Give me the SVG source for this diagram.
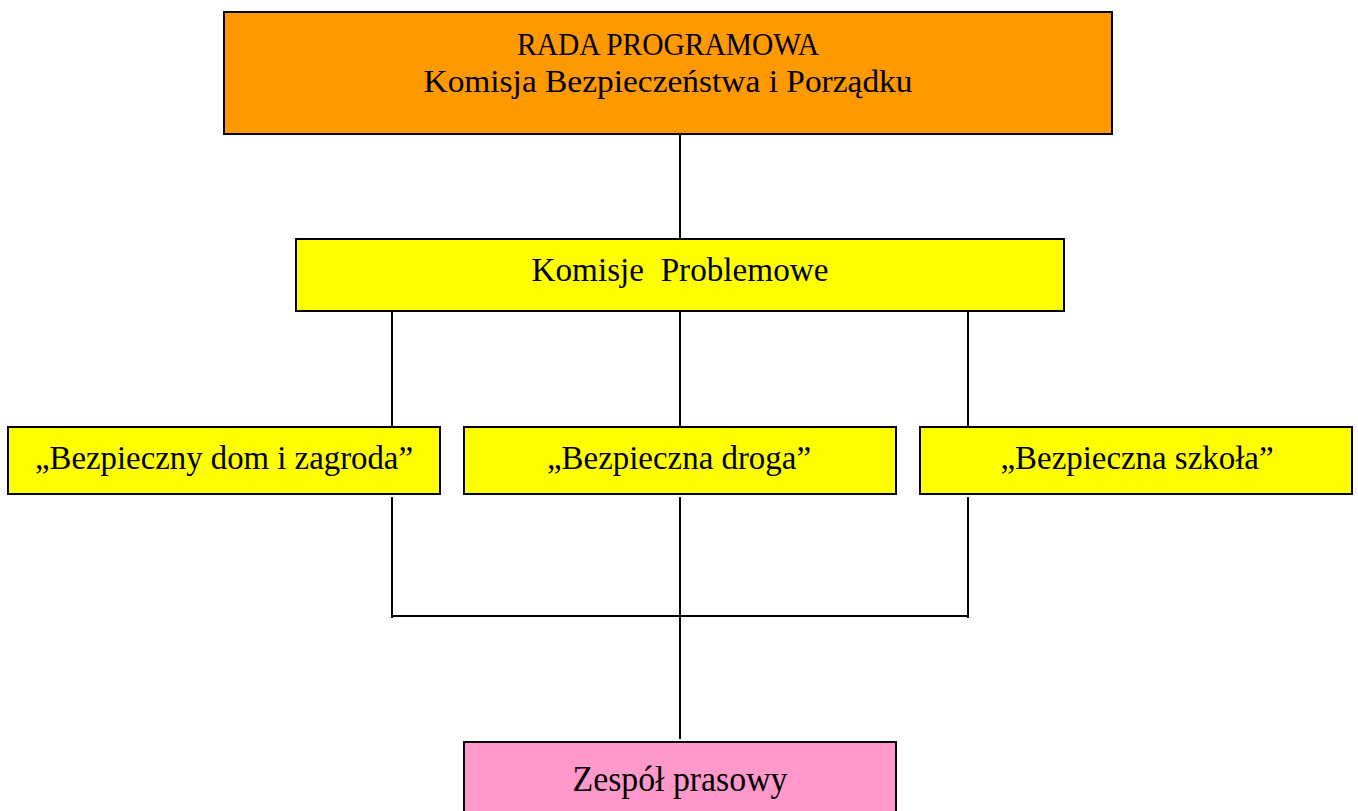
<svg xmlns="http://www.w3.org/2000/svg" width="1358" height="811" viewBox="0 0 1358 811">
<style>
.box{stroke:#000;stroke-width:2}
.t{font-family:"Liberation Serif","DejaVu Serif",serif;fill:#000;text-anchor:middle}
.c{stroke:#000;stroke-width:2;fill:none}
</style>
<rect width="1358" height="811" fill="#fff"/>
<g id="connectors">
<line class="c" x1="680" y1="134" x2="680" y2="240"/>
<line class="c" x1="392" y1="311" x2="392" y2="428"/>
<line class="c" x1="680" y1="311" x2="680" y2="428"/>
<line class="c" x1="968" y1="311" x2="968" y2="428"/>
<line class="c" x1="392" y1="497" x2="392" y2="618"/>
<line class="c" x1="968" y1="497" x2="968" y2="618"/>
<line class="c" x1="391" y1="616" x2="969" y2="616"/>
<line class="c" x1="680" y1="497" x2="680" y2="739"/>
</g>
<g id="rada">
<rect class="box" x="224" y="12" width="888" height="122" fill="#FF9900"/>
<text class="t" x="668" y="55" font-size="32" textLength="302" lengthAdjust="spacingAndGlyphs">RADA PROGRAMOWA</text>
<text class="t" x="668" y="92" font-size="32" textLength="489" lengthAdjust="spacingAndGlyphs">Komisja Bezpieczeństwa i Porządku</text>
</g>
<g id="komisje">
<rect class="box" x="296" y="239" width="768" height="72" fill="#FFFF00"/>
<text class="t" x="680" y="281" font-size="33" textLength="297" lengthAdjust="spacingAndGlyphs" xml:space="preserve">Komisje  Problemowe</text>
</g>
<g id="dom">
<rect class="box" x="8" y="427" width="432" height="67" fill="#FFFF00"/>
<text class="t" x="224" y="469" font-size="33" textLength="378" lengthAdjust="spacingAndGlyphs">„Bezpieczny dom i zagroda”</text>
</g>
<g id="droga">
<rect class="box" x="464" y="427" width="432" height="67" fill="#FFFF00"/>
<text class="t" x="679" y="469" font-size="33" textLength="264" lengthAdjust="spacingAndGlyphs">„Bezpieczna droga”</text>
</g>
<g id="szkola">
<rect class="box" x="920" y="427" width="432" height="67" fill="#FFFF00"/>
<text class="t" x="1137" y="469" font-size="33" textLength="273" lengthAdjust="spacingAndGlyphs">„Bezpieczna szkoła”</text>
</g>
<g id="zespol">
<rect class="box" x="464" y="742" width="432" height="80" fill="#FF99CC"/>
<text class="t" x="680" y="791" font-size="36" textLength="215" lengthAdjust="spacingAndGlyphs">Zespół prasowy</text>
</g>
</svg>
